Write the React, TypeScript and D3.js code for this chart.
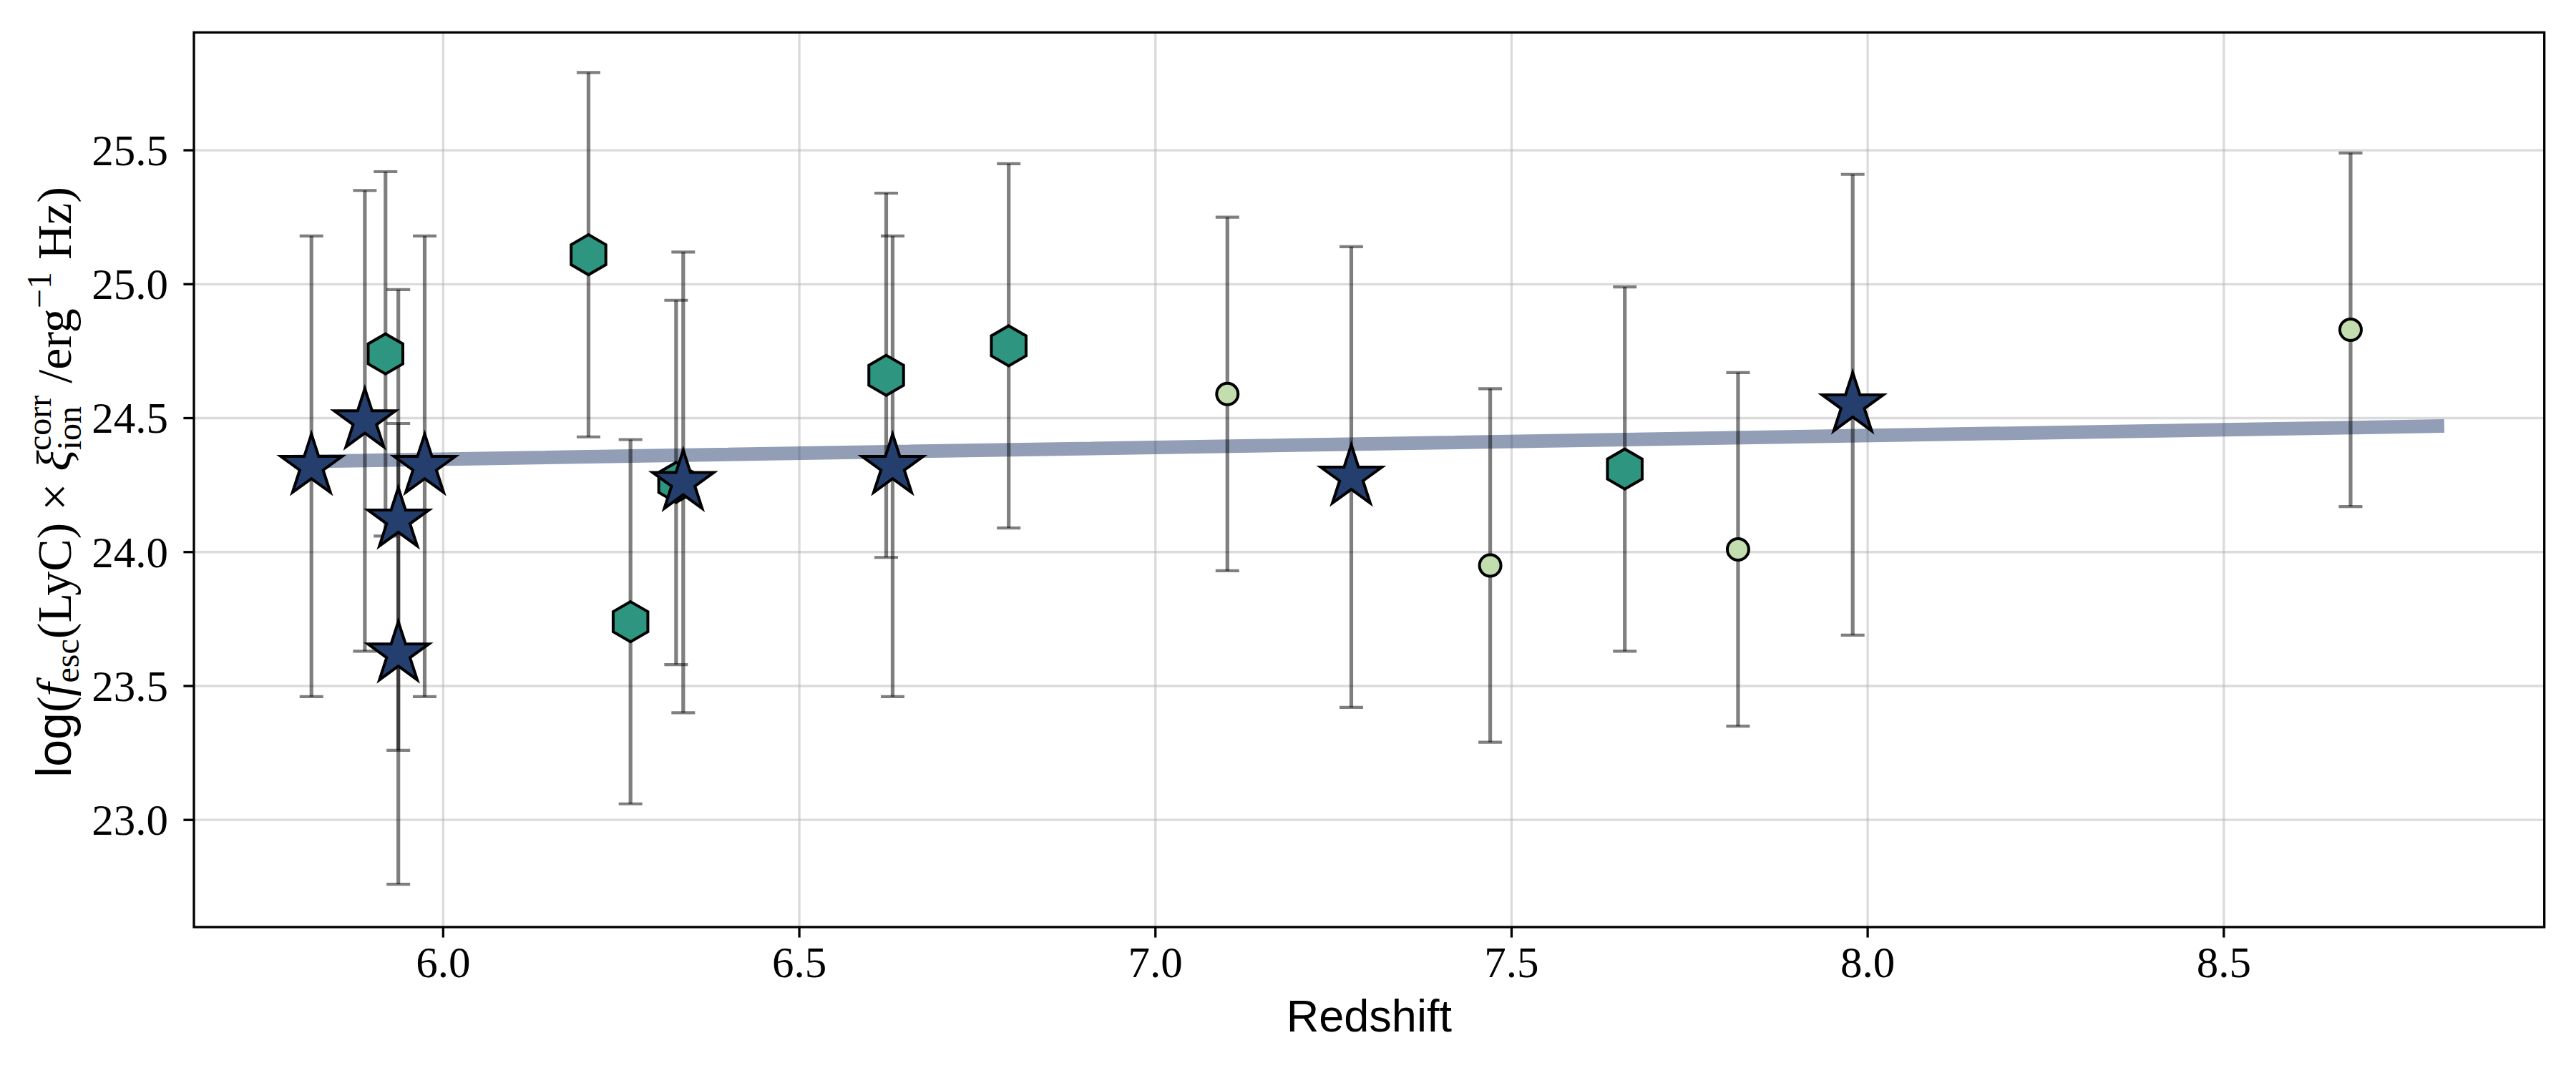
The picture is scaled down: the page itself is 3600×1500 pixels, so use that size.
import * as d3 from "d3";

// star sample
const starZ = [5.815, 5.89, 5.937, 5.937, 5.974, 6.337, 6.631, 7.275, 7.979];
const starVal = [24.32, 24.49, 24.12, 23.62, 24.32, 24.26, 24.32, 24.28, 24.55];
const starErr = [0.86, 0.86, 0.86, 0.86, 0.86, 0.86, 0.86, 0.86, 0.86];

// hexagon sample
const hexZ = [5.919, 6.204, 6.263, 6.327, 6.622, 6.794, 7.659];
const hexVal = [24.74, 25.11, 23.74, 24.26, 24.66, 24.77, 24.31];
const hexErr = [0.68, 0.68, 0.68, 0.68, 0.68, 0.68, 0.68];

// circle sample
const circZ = [7.101, 7.47, 7.818, 8.678];
const circVal = [24.59, 23.95, 24.01, 24.83];
const circErr = [0.66, 0.66, 0.66, 0.66];

// linear fit
const fitZ = [5.8, 8.8];
const fitVal = [24.338, 24.47];

const xTicks = [6.0, 6.5, 7.0, 7.5, 8.0, 8.5];
const yTicks = [23.0, 23.5, 24.0, 24.5, 25.0, 25.5];

const starColor = "#243e6e";
const hexColor = "#2e9680";
const circColor = "#c2deaf";

const symbolHexagon = {
  draw(ctx: any, size: number) {
    const r = Math.sqrt(size);
    for (let i = 0; i < 6; i++) {
      const a = -Math.PI / 2 + (i * Math.PI) / 3;
      if (i === 0) ctx.moveTo(r * Math.cos(a), r * Math.sin(a));
      else ctx.lineTo(r * Math.cos(a), r * Math.sin(a));
    }
    ctx.closePath();
  },
};

export default function App() {
  const width = 3600;
  const height = 1500;
  const left = 271;
  const right = 3555.7;
  const top = 45.3;
  const bottom = 1296;

  const x = d3.scaleLinear([5.65, 8.95], [left, right]);
  const y = d3.scaleLinear([22.6, 25.94], [bottom, top]);

  const fitLine = d3
    .line<number>()
    .x((d) => x(d))
    .y((d, i) => y(fitVal[i]));

  const starPath = d3.symbol(d3.symbolStar, (45 * 45) / 0.8908130915)()!;
  const hexPath = d3.symbol(symbolHexagon as any, 28 * 28)()!;
  const circPath = d3.symbol(d3.symbolCircle, Math.PI * 15 * 15)()!;

  const errBars = (zs: number[], vals: number[], errs: number[], key: string) =>
    zs.map((z, i) => {
      const cx = x(z);
      const y0 = y(vals[i] - errs[i]);
      const y1 = y(vals[i] + errs[i]);
      return (
        <g key={key + i} stroke="#000" strokeOpacity={0.5}>
          <line x1={cx} x2={cx} y1={y0} y2={y1} strokeWidth={5.2} />
          <line x1={cx - 16.5} x2={cx + 16.5} y1={y0} y2={y0} strokeWidth={4.2} />
          <line x1={cx - 16.5} x2={cx + 16.5} y1={y1} y2={y1} strokeWidth={4.2} />
        </g>
      );
    });

  const markers = (zs: number[], vals: number[], d: string, fill: string, key: string) =>
    zs.map((z, i) => (
      <path
        key={key + i}
        d={d}
        transform={`translate(${x(z)},${y(vals[i])})`}
        fill={fill}
        stroke="#000"
        strokeWidth={4}
        strokeLinejoin="miter"
      />
    ));

  const fmt = d3.format(".1f");
  const serif = "'Liberation Serif', 'Times New Roman', serif";
  const sans = "'Liberation Sans', Arial, sans-serif";

  return (
    <svg
      width={width}
      height={height}
      style={{ position: "absolute", left: 0, top: 0, background: "#fff" }}
    >
      <rect width={width} height={height} fill="#fff" />

      {/* grid */}
      <g stroke="#b0b0b0" strokeOpacity={0.45} strokeWidth={3.3}>
        {xTicks.map((t) => (
          <line key={"gx" + t} x1={x(t)} x2={x(t)} y1={top} y2={bottom} />
        ))}
        {yTicks.map((t) => (
          <line key={"gy" + t} x1={left} x2={right} y1={y(t)} y2={y(t)} />
        ))}
      </g>

      {/* fit */}
      <path
        d={fitLine(fitZ)!}
        fill="none"
        stroke={starColor}
        strokeOpacity={0.5}
        strokeWidth={19}
        strokeLinecap="square"
      />

      {errBars(hexZ, hexVal, hexErr, "eh")}
      {errBars(circZ, circVal, circErr, "ec")}
      {errBars(starZ, starVal, starErr, "es")}

      {markers(hexZ, hexVal, hexPath, hexColor, "mh")}
      {markers(circZ, circVal, circPath, circColor, "mc")}
      {markers(starZ, starVal, starPath, starColor, "ms")}

      {/* frame */}
      <rect
        x={left}
        y={top}
        width={right - left}
        height={bottom - top}
        fill="none"
        stroke="#000"
        strokeWidth={3.3}
      />

      {/* x axis */}
      <g>
        {xTicks.map((t) => (
          <g key={"tx" + t} transform={`translate(${x(t)},${bottom})`}>
            <line y2={14.6} stroke="#000" strokeWidth={3.3} />
            <text y={70} textAnchor="middle" fontFamily={serif} fontSize={61}>
              {fmt(t)}
            </text>
          </g>
        ))}
        <text
          x={(left + right) / 2}
          y={1442}
          textAnchor="middle"
          fontFamily={sans}
          fontSize={63}
        >
          Redshift
        </text>
      </g>

      {/* y axis */}
      <g>
        {yTicks.map((t) => (
          <g key={"ty" + t} transform={`translate(${left},${y(t)})`}>
            <line x2={-14.6} stroke="#000" strokeWidth={3.3} />
            <text
              x={-36}
              dy="0.34em"
              textAnchor="end"
              fontFamily={serif}
              fontSize={61}
            >
              {fmt(t)}
            </text>
          </g>
        ))}
        <text
          transform={`translate(99,674) rotate(-90)`}
          textAnchor="middle"
          fontFamily={serif}
          fontSize={68}
        >
          <tspan fontFamily={sans}>log</tspan>
          <tspan>(</tspan>
          <tspan fontStyle="italic">f</tspan>
          <tspan fontSize={48} dy={11}>esc</tspan>
          <tspan dy={-11}>(LyC) × </tspan>
          <tspan fontStyle="italic">ξ</tspan>
          <tspan fontSize={48} dy={14}>ion</tspan>
          <tspan fontSize={48} dx={-62} dy={-42}>corr</tspan>
          <tspan dy={28}> /erg</tspan>
          <tspan fontSize={48} dy={-28}>−1</tspan>
          <tspan dy={28}> Hz)</tspan>
        </text>
      </g>
    </svg>
  );
}
